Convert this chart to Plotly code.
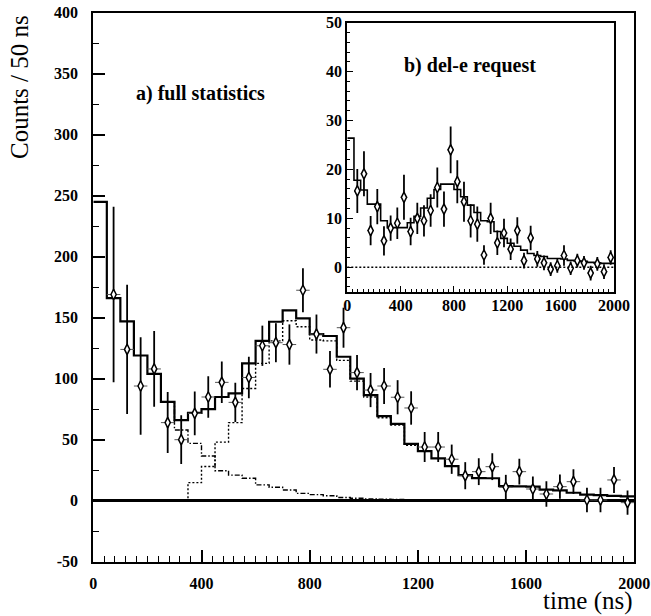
import plotly.graph_objects as go

# ---------------------------------------------------------------- data
BIN_WIDTH = 50  # ns per histogram bin
T_MAX = 2000

# bin centres of the measured points (ns)
t_points = [75, 125, 175, 225, 275, 325, 375, 425, 475, 525, 575, 625, 675,
            725, 775, 825, 875, 925, 975, 1025, 1075, 1125, 1175, 1225, 1275,
            1325, 1375, 1425, 1475, 1525, 1575, 1625, 1675, 1725, 1775, 1825,
            1875, 1925, 1975]

# a) full statistics: measured counts and errors
full_counts = [169, 124, 94, 108, 64, 50, 71.6, 85, 97, 80.6, 101, 127, 129.5,
               128, 172.5, 136.6, 107.7, 141.8, 105, 90.7, 94, 84.8, 76, 44, 44,
               34, 20.5, 23.8, 27.9, 11, 23.8, 9.6, 5.5, 11.5, 15.6, 0.6, 0.6,
               17, -1.6]
full_errors = [72, 53, 40, 31, 25, 20, 18, 17, 17, 16, 17, 16.5, 16, 16.5, 18,
               16, 15, 16.4, 14.5, 14, 14.7, 14, 13.7, 12.3, 12.3, 12, 11.1, 11,
               11, 10.2, 10.5, 10.3, 10.5, 10, 10.2, 10, 10, 10.7, 10]

# a) fitted total (one value per bin, 0-2000 ns)
full_fit_total = [245, 166, 147, 119, 104, 81, 66, 72, 75, 85, 88, 112.6, 131,
                  146.7, 156, 149.5, 136.6, 135, 118, 100, 86.6, 69.4, 63, 46.5,
                  40.7, 34.7, 28.4, 21, 18.5, 18.4, 12, 11.8, 11.5, 9, 8.5, 6.5,
                  5, 4.5, 4, 3.5]

# a) peak component, bins from 300 ns
peak_start = 300
full_fit_peak = [0, 14.8, 28, 48, 64, 92, 112.6, 131, 147.5, 142.6, 131.7, 131,
                 115, 98, 85, 68, 62, 45.5]

# a) falling component, bins from 250 ns
decay_start = 250
full_fit_decay = [81, 58, 47, 36.6, 24.6, 21, 18.4, 13, 11, 8.8, 6, 5, 4, 2.6,
                  2, 1.5, 1.2, 1, 0.8]

# b) del-e request: measured counts and errors
dele_counts = [15.6, 19.1, 7.5, 12.4, 5.4, 8.0, 9.0, 14.3, 7.3, 10.0, 9.5, 11.6,
               16.3, 11.9, 24.0, 17.5, 13.4, 9.5, 8.8, 2.5, 10.0, 5.0, 7.0, 3.7,
               7.5, 1.35, 6.0, 1.7, 0.9, -0.4, 0.3, 2.4, -0.2, 1.35, 0.9, -1.2,
               0.7, -0.9, 2.0]
dele_errors = [4.5, 4.6, 3.0, 3.6, 3.0, 2.6, 3.2, 4.6, 2.8, 3.2, 3.2, 3.3, 4.1,
               3.6, 4.8, 4.4, 4.1, 3.4, 3.6, 2.0, 3.2, 2.5, 2.9, 2.2, 2.7, 1.6,
               2.5, 1.6, 1.5, 1.4, 1.4, 2.1, 1.4, 1.4, 1.4, 1.5, 1.4, 1.5, 1.5]

# b) fitted total (one value per bin, 0-2000 ns)
dele_fit_total = [26.4, 17.8, 15.8, 12.9, 12.9, 9.5, 8.1, 8.1, 8.1, 9.1, 10.4,
                  12.1, 14.1, 15.9, 17.0, 17.0, 15.9, 14.4, 12.7, 11.2, 9.5, 9.3,
                  7.3, 5.9, 4.9, 4.3, 3.5, 2.8, 2.4, 2.2, 1.8, 1.8, 1.7, 1.4,
                  1.3, 1.2, 1.0, 0.9, 0.8, 0.8]

x_ticks = [0, 400, 800, 1200, 1600, 2000]
y_ticks_full = [-50, 0, 50, 100, 150, 200, 250, 300, 350, 400]
y_ticks_dele = [0, 10, 20, 30, 40, 50]

# ---------------------------------------------------------------- helpers
SERIF = "Liberation Serif"
INK = "black"


def bold_labels(vals):
    return [f"<b>{v}</b>" for v in vals]


def step_xy(start, values):
    """Edges and levels for an 'hv' step line beginning at `start`."""
    xs = [start + BIN_WIDTH * i for i in range(len(values) + 1)]
    ys = list(values) + [values[-1]]
    return xs, ys


def step_trace(start, values, axes, width, dash="solid"):
    xs, ys = step_xy(start, values)
    return go.Scatter(x=xs, y=ys, xaxis=axes[0], yaxis=axes[1],
                      mode="lines", line=dict(shape="hv", color=INK,
                                              width=width, dash=dash),
                      hoverinfo="skip", showlegend=False)


def points_trace(ys, errs, axes):
    return go.Scatter(
        x=t_points, y=ys, xaxis=axes[0], yaxis=axes[1], mode="markers",
        marker=dict(symbol="diamond-tall", size=7.5, color="white",
                    line=dict(color=INK, width=1.5)),
        error_y=dict(type="data", array=errs, visible=True, color=INK,
                     thickness=1.8, width=0),
        error_x=dict(type="constant", value=BIN_WIDTH / 2, visible=True,
                     color="#555", thickness=1, width=0),
        showlegend=False)


fig = go.Figure()

# a) full statistics
main = ("x", "y")
fig.add_trace(step_trace(0, full_fit_total, main, 2.2))
fig.add_trace(step_trace(peak_start, full_fit_peak, main, 1.4, "2px,2px"))
fig.add_trace(step_trace(decay_start, full_fit_decay, main, 1.4,
                         "5px,2px,1.5px,2px"))
fig.add_trace(points_trace(full_counts, full_errors, main))

# b) del-e request
inset = ("x2", "y2")
fig.add_trace(step_trace(0, dele_fit_total, inset, 1.6))
fig.add_trace(points_trace(dele_counts, dele_errors, inset))

W, H = 651, 616


def px_x(p):
    return p / W


def px_y(p):
    return 1 - p / H


tick_font = dict(family=SERIF, size=16, color=INK)

axis_common = dict(showline=True, linecolor=INK, linewidth=2, mirror=True,
                   showgrid=False, ticks="inside", tickcolor=INK,
                   tickfont=tick_font, automargin=False)

fig.update_layout(
    width=W, height=H,
    margin=dict(l=0, r=0, t=0, b=0),
    paper_bgcolor="white", plot_bgcolor="white",
    showlegend=False,
    xaxis=dict(**axis_common, domain=[px_x(93.3), px_x(634.3)],
               range=[0, T_MAX], tickvals=x_ticks,
               ticktext=bold_labels(x_ticks), ticklen=12, tickwidth=1.5,
               ticklabelstandoff=6, zeroline=False,
               minor=dict(dtick=40, tick0=0, ticklen=6, ticks="inside",
                          tickcolor=INK, tickwidth=1.2)),
    yaxis=dict(**axis_common, domain=[px_y(561.7), px_y(12.7)],
               range=[-50, 400], tickvals=y_ticks_full,
               ticktext=bold_labels(y_ticks_full), ticklen=12,
               tickwidth=1.5, ticklabelstandoff=10,
               zeroline=True, zerolinecolor=INK, zerolinewidth=2.6,
               minor=dict(dtick=25, tick0=0, ticklen=6, ticks="inside",
                          tickcolor=INK, tickwidth=1.2)),
    xaxis2=dict(**axis_common, domain=[px_x(347.3), px_x(614)],
                anchor="y2", range=[0, T_MAX], tickvals=x_ticks,
                ticktext=bold_labels(x_ticks), ticklen=6,
                tickwidth=1.2, ticklabelstandoff=-2, zeroline=False,
                minor=dict(dtick=40, tick0=0, ticklen=3, ticks="inside",
                           tickcolor=INK, tickwidth=1)),
    yaxis2=dict(**axis_common, domain=[px_y(291.7), px_y(22.7)],
                anchor="x2", range=[-5, 50], tickvals=y_ticks_dele,
                ticktext=bold_labels(y_ticks_dele), ticklen=6,
                tickwidth=1.2, ticklabelstandoff=0, zeroline=False,
                minor=dict(dtick=2, tick0=0, ticklen=3, ticks="inside",
                           tickcolor=INK, tickwidth=1)),
)

# dotted zero reference in the inset
fig.add_shape(type="line", xref="x2 domain", yref="y2", x0=0, x1=1, y0=0,
              y1=0, line=dict(color=INK, width=1.3, dash="2px,2px"))

fig.add_annotation(text="<b>a) full statistics</b>", xref="paper",
                   yref="paper", x=px_x(134), y=px_y(93), xanchor="left",
                   yanchor="middle", showarrow=False,
                   font=dict(family=SERIF, size=20, color=INK))
fig.add_annotation(text="<b>b) del-e request</b>", xref="paper", yref="paper",
                   x=px_x(402), y=px_y(66), xanchor="left", yanchor="middle",
                   showarrow=False,
                   font=dict(family=SERIF, size=20, color=INK))
fig.add_annotation(text="Counts / 50 ns", xref="paper", yref="paper",
                   x=px_x(20), y=px_y(13), xanchor="center", yanchor="top",
                   textangle=-90, showarrow=False,
                   font=dict(family=SERIF, size=25, color=INK))
fig.add_annotation(text="time (ns)", xref="paper", yref="paper",
                   x=px_x(634), y=0, xanchor="right",
                   yanchor="bottom", showarrow=False, borderpad=0,
                   font=dict(family=SERIF, size=25, color=INK))

fig.write_html("out.html")
